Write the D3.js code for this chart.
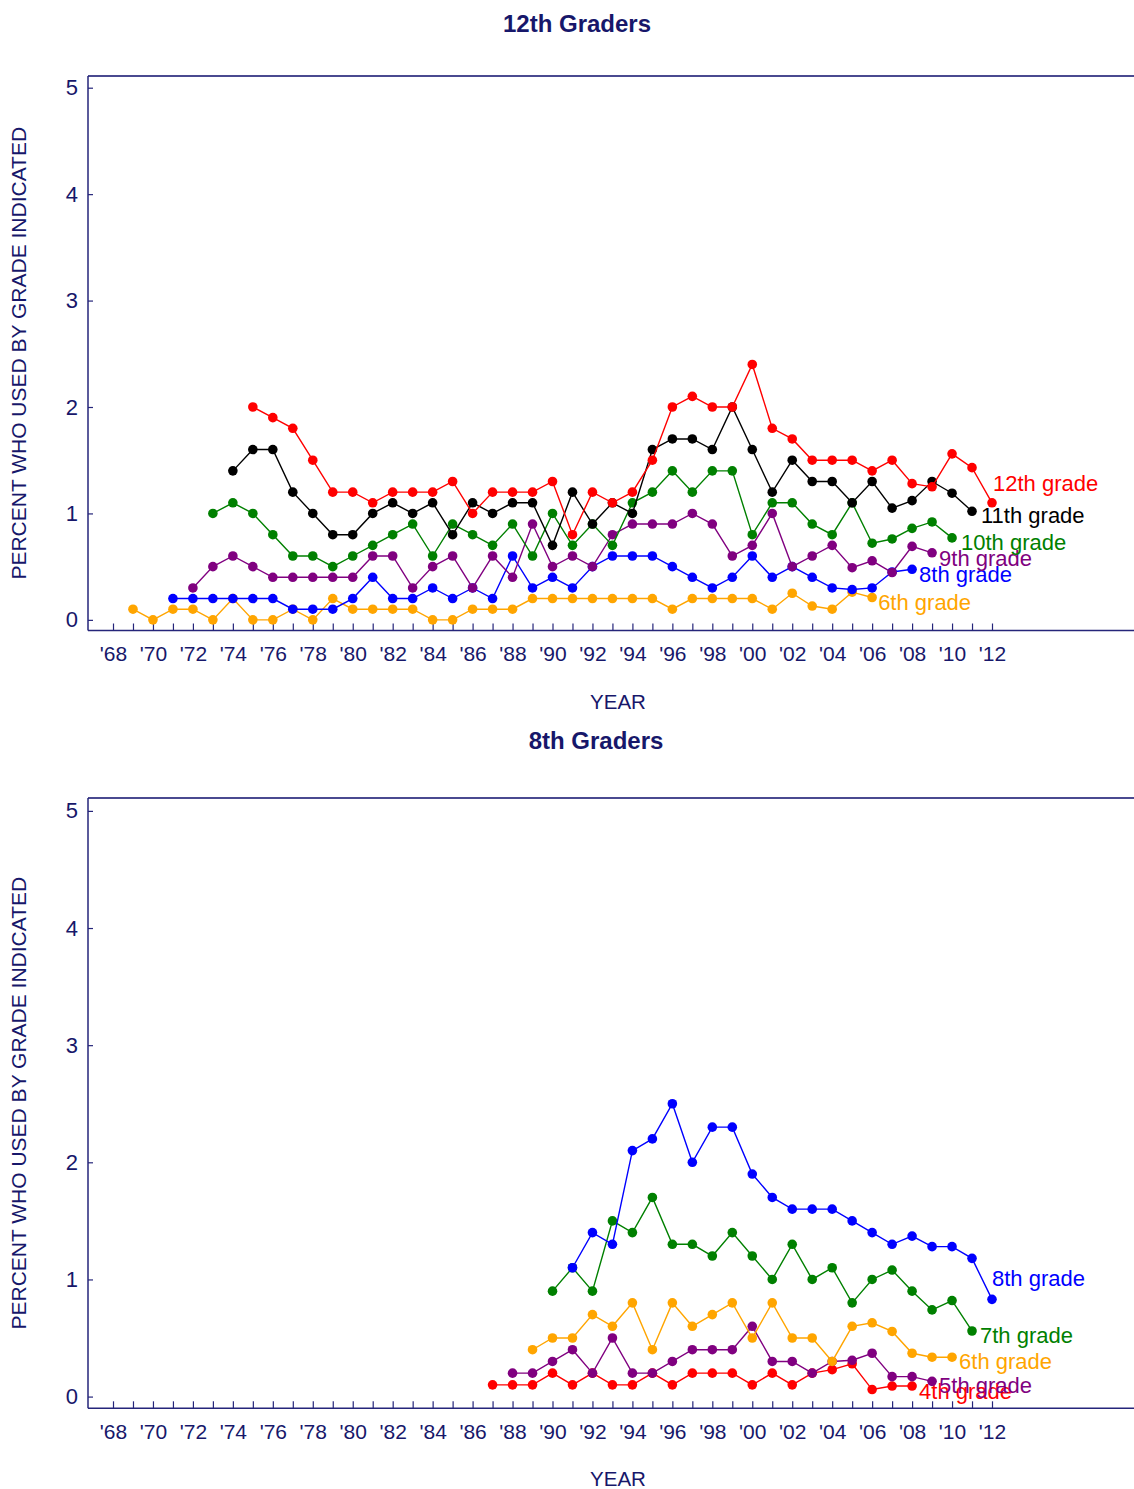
<!DOCTYPE html>
<html>
<head>
<meta charset="utf-8">
<script src="https://cdn.jsdelivr.net/npm/d3@7"></script>
<style>
  html, body { margin: 0; padding: 0; background: #fff; }
  svg { display: block; }
</style>
</head>
<body>
<svg id="chart" width="1134" height="1489"></svg>
<script>
// ---------------- DATA ----------------
const yearTicks = d3.range(1968, 2013);           // every year gets a tick
const yearLabelYears = d3.range(1968, 2013, 2);    // labelled every other year
const yTickValues = [0, 1, 2, 3, 4, 5];

// Top panel: 12th graders (series labels, start years, values)
const topNames  = ["6th grade", "8th grade", "9th grade", "10th grade", "11th grade", "12th grade"];
const topStarts = [1969, 1971, 1972, 1973, 1974, 1975];
const top6  = [0.1,0.0,0.1,0.1,0.0,0.2,0.0,0.0,0.1,0.0,0.2,0.1,0.1,0.1,0.1,0.0,0.0,0.1,0.1,0.1,0.2,0.2,0.2,0.2,0.2,0.2,0.2,0.1,0.2,0.2,0.2,0.2,0.1,0.25,0.13,0.1,0.26,0.21];
const top8  = [0.2,0.2,0.2,0.2,0.2,0.2,0.1,0.1,0.1,0.2,0.4,0.2,0.2,0.3,0.2,0.3,0.2,0.6,0.3,0.4,0.3,0.5,0.6,0.6,0.6,0.5,0.4,0.3,0.4,0.6,0.4,0.5,0.4,0.3,0.285,0.3,0.45,0.475];
const top9  = [0.3,0.5,0.6,0.5,0.4,0.4,0.4,0.4,0.4,0.6,0.6,0.3,0.5,0.6,0.3,0.6,0.4,0.9,0.5,0.6,0.5,0.8,0.9,0.9,0.9,1.0,0.9,0.6,0.7,1.0,0.5,0.6,0.7,0.49,0.555,0.445,0.69,0.63];
const top10 = [1.0,1.1,1.0,0.8,0.6,0.6,0.5,0.6,0.7,0.8,0.9,0.6,0.9,0.8,0.7,0.9,0.6,1.0,0.7,0.9,0.7,1.1,1.2,1.4,1.2,1.4,1.4,0.8,1.1,1.1,0.9,0.8,1.1,0.72,0.76,0.86,0.92,0.77];
const top11 = [1.4,1.6,1.6,1.2,1.0,0.8,0.8,1.0,1.1,1.0,1.1,0.8,1.1,1.0,1.1,1.1,0.7,1.2,0.9,1.1,1.0,1.6,1.7,1.7,1.6,2.0,1.6,1.2,1.5,1.3,1.3,1.1,1.3,1.05,1.12,1.3,1.19,1.02];
const top12 = [2.0,1.9,1.8,1.5,1.2,1.2,1.1,1.2,1.2,1.2,1.3,1.0,1.2,1.2,1.2,1.3,0.8,1.2,1.1,1.2,1.5,2.0,2.1,2.0,2.0,2.4,1.8,1.7,1.5,1.5,1.5,1.4,1.5,1.28,1.25,1.56,1.43,1.1];
const topValues = [top6, top8, top9, top10, top11, top12];

// Bottom panel: 8th graders
const botNames  = ["4th grade", "5th grade", "6th grade", "7th grade", "8th grade"];
const botStarts = [1987, 1988, 1989, 1990, 1991];
const bot4 = [0.1,0.1,0.1,0.2,0.1,0.2,0.1,0.1,0.2,0.1,0.2,0.2,0.2,0.1,0.2,0.1,0.2,0.23,0.28,0.06,0.09,0.09];
const bot5 = [0.2,0.2,0.3,0.4,0.2,0.5,0.2,0.2,0.3,0.4,0.4,0.4,0.6,0.3,0.3,0.2,0.3,0.31,0.37,0.17,0.17,0.13];
const bot6 = [0.4,0.5,0.5,0.7,0.6,0.8,0.4,0.8,0.6,0.7,0.8,0.5,0.8,0.5,0.5,0.3,0.6,0.63,0.556,0.37,0.336,0.336];
const bot7 = [0.9,1.1,0.9,1.5,1.4,1.7,1.3,1.3,1.2,1.4,1.2,1.0,1.3,1.0,1.1,0.8,1.0,1.08,0.9,0.74,0.82,0.56];
const bot8 = [1.1,1.4,1.3,2.1,2.2,2.5,2.0,2.3,2.3,1.9,1.7,1.6,1.6,1.6,1.5,1.4,1.3,1.37,1.28,1.28,1.18,0.83];
const botValues = [bot4, bot5, bot6, bot7, bot8];

// ---------------- STYLE / LAYOUT ----------------
const FONT = "'Liberation Sans', Arial, Helvetica, sans-serif";
const NAVY_TEXT = "#17176a";
const NAVY_LINE = "#25257a";
const gradeColor = {
  "4th grade": "#ff0000", "5th grade": "#800080", "6th grade": "#ffa500",
  "7th grade": "#008000", "8th grade": "#0000ff", "9th grade": "#800080",
  "10th grade": "#008000", "11th grade": "#000000", "12th grade": "#ff0000"
};
// label placement relative to last point (dx, dy to baseline)
const labelOffset = {
  "12th grade": [1, -12], "11th grade": [9, 12], "10th grade": [9, 12],
  "9th grade": [7, 13], "8th grade": [7, 13], "6th grade": [6, 12]
};
const labelOffsetBottom = {
  "8th grade": [0, -13], "7th grade": [8, 12], "6th grade": [7, 12],
  "5th grade": [7, 12], "4th grade": [7, 13]
};

const panels = [
  { title: "12th Graders", titleX: 577, titleY: 32, top: 76, bottom: 630.5,
    names: topNames, starts: topStarts, values: topValues, offsets: labelOffset },
  { title: "8th Graders", titleX: 596, titleY: 749, top: 798, bottom: 1408.3,
    names: botNames, starts: botStarts, values: botValues, offsets: labelOffsetBottom }
];

const LEFT = 88, RIGHT = 1134;
const svg = d3.select("#chart");

const x = d3.scaleLinear().domain([1968, 2012]).range([113, 992]);

panels.forEach(p => {
  const g = svg.append("g");
  const y = d3.scaleLinear().domain([-0.1, 5.11]).range([p.bottom, p.top]);

  // Title
  g.append("text")
    .attr("x", p.titleX).attr("y", p.titleY)
    .attr("text-anchor", "middle")
    .attr("font-family", FONT).attr("font-weight", "bold")
    .attr("font-size", 24).attr("fill", NAVY_TEXT)
    .text(p.title);

  // Frame lines
  g.append("line").attr("x1", LEFT).attr("x2", RIGHT).attr("y1", p.top).attr("y2", p.top)
    .attr("stroke", "#4a4a90").attr("stroke-width", 2);
  g.append("line").attr("x1", LEFT).attr("x2", LEFT).attr("y1", p.top).attr("y2", p.bottom)
    .attr("stroke", NAVY_LINE).attr("stroke-width", 1.5);
  g.append("line").attr("x1", LEFT).attr("x2", RIGHT).attr("y1", p.bottom).attr("y2", p.bottom)
    .attr("stroke", NAVY_LINE).attr("stroke-width", 1.5);

  // X axis (ticks inward)
  const xAxis = d3.axisBottom(x)
    .tickValues(yearTicks)
    .tickSizeInner(-7).tickSizeOuter(0).tickPadding(16)
    .tickFormat(d => yearLabelYears.includes(d) ? "'" + String(d).slice(2) : "");
  const gx = g.append("g").attr("transform", `translate(0,${p.bottom})`).call(xAxis);
  gx.select(".domain").remove();
  gx.selectAll(".tick line").attr("stroke", NAVY_LINE).attr("stroke-width", 1.2);
  gx.selectAll(".tick text").attr("font-family", FONT).attr("font-size", 21).attr("fill", NAVY_TEXT);

  // Y axis (ticks inward)
  const yAxis = d3.axisLeft(y)
    .tickValues(yTickValues)
    .tickSizeInner(-5).tickSizeOuter(0).tickPadding(10)
    .tickFormat(d3.format("d"));
  const gy = g.append("g").attr("transform", `translate(${LEFT},0)`).call(yAxis);
  gy.select(".domain").remove();
  gy.selectAll(".tick line").attr("stroke", NAVY_LINE).attr("stroke-width", 1.2);
  gy.selectAll(".tick text").attr("font-family", FONT).attr("font-size", 22).attr("fill", NAVY_TEXT);

  // Axis titles
  g.append("text")
    .attr("x", 618).attr("y", p.bottom + 78)
    .attr("text-anchor", "middle")
    .attr("font-family", FONT).attr("font-size", 20.5).attr("fill", NAVY_TEXT)
    .text("YEAR");
  const midY = (p.top + p.bottom) / 2;
  g.append("text")
    .attr("transform", `translate(26,${midY}) rotate(-90)`)
    .attr("text-anchor", "middle")
    .attr("font-family", FONT).attr("font-size", 21).attr("fill", NAVY_TEXT)
    .text("PERCENT WHO USED BY GRADE INDICATED");

  // Series
  const line = d3.line().x(d => x(d.year)).y(d => y(d.value));
  p.names.forEach((name, i) => {
    const pts = p.values[i].map((v, k) => ({ year: p.starts[i] + k, value: v }));
    const color = gradeColor[name];
    const sg = g.append("g");
    sg.append("path").datum(pts)
      .attr("d", line).attr("fill", "none")
      .attr("stroke", color).attr("stroke-width", 1.4);
    sg.selectAll("circle").data(pts).enter().append("circle")
      .attr("cx", d => x(d.year)).attr("cy", d => y(d.value))
      .attr("r", 4.8).attr("fill", color);
    const last = pts[pts.length - 1];
    const off = p.offsets[name];
    sg.append("text")
      .attr("x", x(last.year) + off[0]).attr("y", y(last.value) + off[1])
      .attr("font-family", FONT).attr("font-size", 22).attr("fill", color)
      .text(name);
  });
});
</script>
</body>
</html>
